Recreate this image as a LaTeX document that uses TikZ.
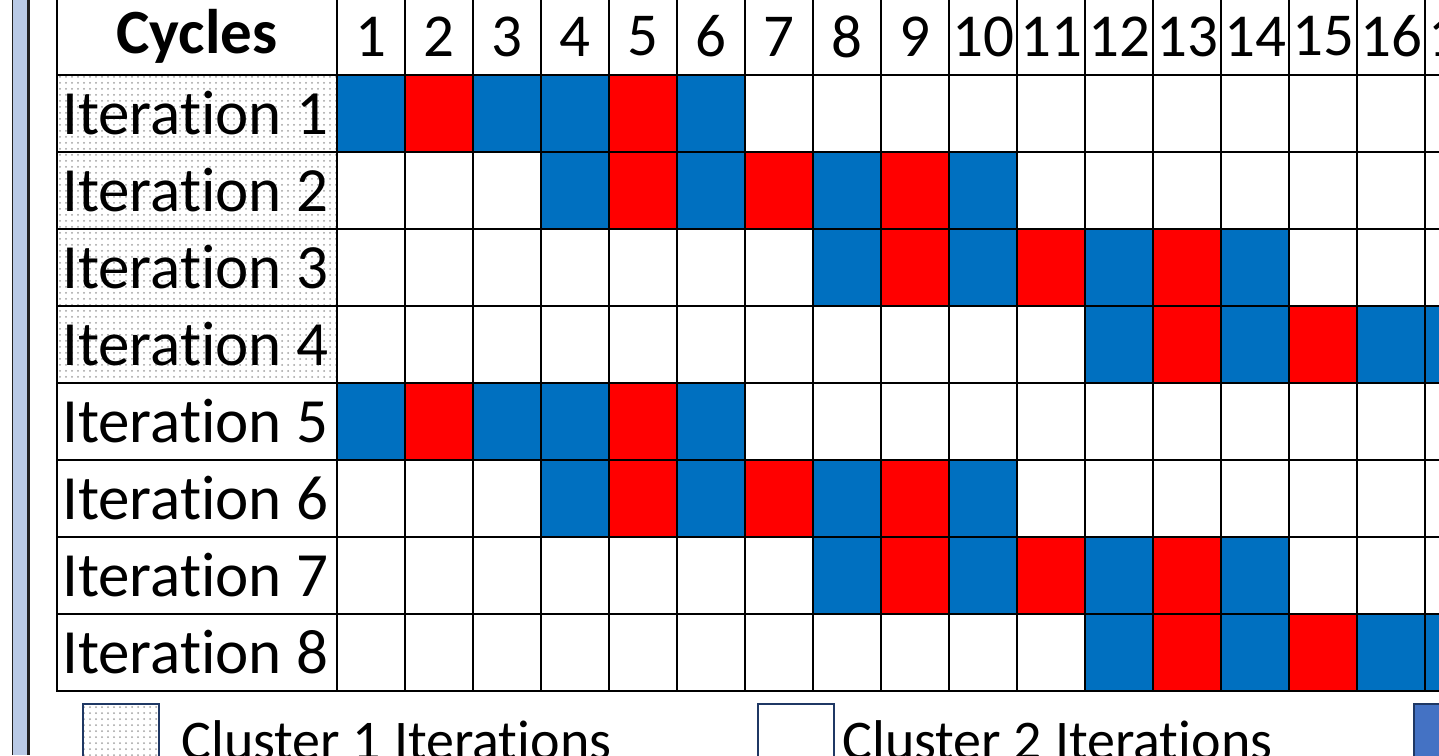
\documentclass[tikz,border=0pt]{standalone}
\usepackage{fontspec}
\setmainfont{Carlito}[Ligatures=NoCommon]
\usepackage{tikz}
\usetikzlibrary{patterns}

\definecolor{cellblue}{HTML}{0070C0}
\definecolor{cellred}{HTML}{FF0000}
\definecolor{legblue}{HTML}{4472C4}
\definecolor{legline}{HTML}{1F3864}
\definecolor{stripblue}{HTML}{B9CAE6}

\begin{document}
\begin{tikzpicture}[x=0.5pt, y=-0.5pt,
    cell/.style={draw, line width=1.2pt, minimum width=34pt, minimum height=38.5pt, inner sep=0pt, font=\fontsize{30.5}{36}\selectfont},
    rowcell/.style={cell, minimum width=140pt},
    rowtext/.style={anchor=west, inner sep=0pt, xshift=3pt, font=\fontsize{31.5}{36}\selectfont},
    clusterone/.style={pattern=dots, pattern color=gray!75},
    legbox/.style={draw=legline, line width=1pt, minimum size=38pt, inner sep=0pt, anchor=north west},
    legtext/.style={anchor=base west, inner sep=0pt, font=\fontsize{28}{34}\selectfont}]
    \useasboundingbox (0,0) rectangle (1439,755);
    \clip (0,0) rectangle (1439,755);

    % side strip
    \fill[stripblue] (12,0) rectangle (29,755);
    \draw[gray!25!black, line width=0.5pt] (12.5,0) -- (12.5,755);
    \draw[gray!25!black, line width=1.2pt] (28.5,0) -- (28.5,755);

    % header
    \node[rowcell, font=\fontsize{31.5}{36}\selectfont\bfseries] (cycles) at (197,36.5) {Cycles};
    \foreach \c in {1,...,17}
        \node[cell] (h\c) at ({303+68*\c},36.5) {\c};

    % row labels
    \foreach \r in {1,...,4}
        \node[rowcell, clusterone] (it\r) at (197,{36.5+77*\r}) {};
    \foreach \r in {5,...,8}
        \node[rowcell] (it\r) at (197,{36.5+77*\r}) {};
    \foreach \r in {1,...,8}
        \node[rowtext] (itname\r) at (it\r.west) {Iteration \r};

    % empty grid
    \foreach \r in {1,...,8}
        \foreach \c in {1,...,17}
            \node[cell] (r\r c\c) at ({303+68*\c},{36.5+77*\r}) {};

    % busy cycles
    \foreach \r in {1,5}
        \foreach \c/\col in {1/cellblue,2/cellred,3/cellblue,4/cellblue,5/cellred,6/cellblue}
            \node[cell, fill=\col] (f\r c\c) at ({303+68*\c},{36.5+77*\r}) {};
    \foreach \r in {2,6}
        \foreach \c/\col in {4/cellblue,5/cellred,6/cellblue,7/cellred,8/cellblue,9/cellred,10/cellblue}
            \node[cell, fill=\col] (f\r c\c) at ({303+68*\c},{36.5+77*\r}) {};
    \foreach \r in {3,7}
        \foreach \c/\col in {8/cellblue,9/cellred,10/cellblue,11/cellred,12/cellblue,13/cellred,14/cellblue}
            \node[cell, fill=\col] (f\r c\c) at ({303+68*\c},{36.5+77*\r}) {};
    \foreach \r in {4,8}
        \foreach \c/\col in {12/cellblue,13/cellred,14/cellblue,15/cellred,16/cellblue,17/cellblue}
            \node[cell, fill=\col] (f\r c\c) at ({303+68*\c},{36.5+77*\r}) {};

    % legend
    \node[legbox, clusterone] (legone) at (82,703) {};
    \node[legtext] (legonetext) at (181,759) {Cluster 1 Iterations};
    \node[legbox] (legtwo) at (757,703) {};
    \node[legtext] (legtwotext) at (842,759) {Cluster 2 Iterations};
    \node[legbox, fill=legblue] (legthree) at (1413,703) {};
\end{tikzpicture}
\end{document}
